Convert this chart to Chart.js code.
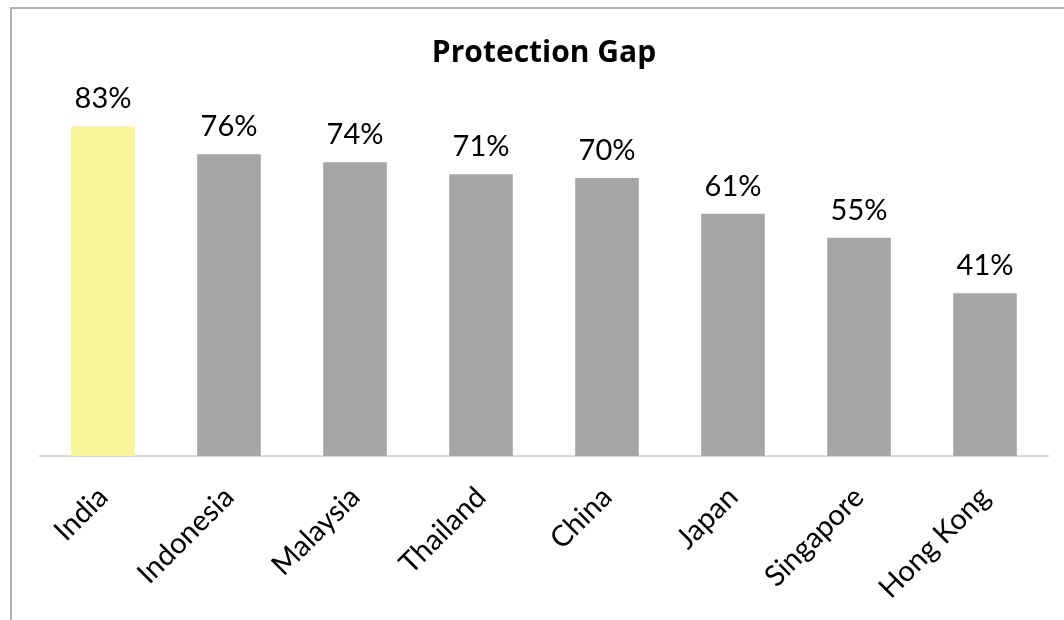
<!DOCTYPE html>
<html>
<head>
<meta charset="utf-8">
<script src="https://cdn.jsdelivr.net/npm/chart.js@4.4.0/dist/chart.umd.min.js"></script>
<style>
  html, body { margin: 0; padding: 0; background: #fff; overflow: hidden; }
  #wrap { position: relative; width: 1064px; height: 620px; }
  #frame { position: absolute; left: 10px; top: 7px; width: 1100px; height: 700px;
           border-top: 2px solid #b0b0b0; border-left: 2px solid #b0b0b0; }
  canvas { position: absolute; left: 0; top: 0; }
</style>
</head>
<body>
<div id="wrap">
  <div id="frame"></div>
  <canvas id="myChart" width="1064" height="620"></canvas>
</div>
<script>
const countries = ['India', 'Indonesia', 'Malaysia', 'Thailand', 'China', 'Japan', 'Singapore', 'Hong Kong'];
const gapValues = [83, 76, 74, 71, 70, 61, 55, 41];
const barColors = ['#f8f49a', '#a6a6a6', '#a6a6a6', '#a6a6a6', '#a6a6a6', '#a6a6a6', '#a6a6a6', '#a6a6a6'];

const fontName = 'Lato, "Open Sans", sans-serif';

// labels above each bar
const valueLabels = {
  id: 'valueLabels',
  afterDatasetsDraw(chart) {
    const ctx = chart.ctx;
    const meta = chart.getDatasetMeta(0);
    ctx.save();
    ctx.font = '29px ' + fontName;
    ctx.fillStyle = '#000';
    ctx.textAlign = 'center';
    ctx.textBaseline = 'alphabetic';
    meta.data.forEach(function(bar, i){
      ctx.fillText(gapValues[i] + '%', bar.x, bar.y - 18);
    });
    ctx.restore();
  }
};

const ctx = document.getElementById('myChart').getContext('2d');
const gapChart = new Chart(ctx, {
  type: 'bar',
  data: {
    labels: countries,
    datasets: [{
      data: gapValues,
      backgroundColor: barColors,
      borderWidth: 0,
      categoryPercentage: 1,
      barPercentage: 0.505
    }]
  },
  options: {
    responsive: false,
    animation: false,
    layout: { padding: { left: 40, right: 16, top: 0, bottom: 0 } },
    plugins: {
      legend: { display: false },
      tooltip: { enabled: false },
      title: {
        display: true,
        text: 'Protection Gap',
        color: '#000',
        font: { family: '"Open Sans", Lato, sans-serif', size: 30, weight: 'bold', lineHeight: 1.2 },
        padding: { top: 35, bottom: -12 }
      }
    },
    scales: {
      x: {
        grid: { display: false, drawTicks: false },
        border: { color: '#d9d9d9', width: 2 },
        ticks: {
          color: '#000',
          font: { family: fontName, size: 29 },
          minRotation: 45,
          maxRotation: 45,
          padding: 24
        },
        afterFit(scale) { scale.height = 164; scale.paddingLeft = 0; scale.paddingRight = 0; }
      },
      y: {
        display: false,
        min: 0,
        max: 100
      }
    }
  },
  plugins: [valueLabels]
});
</script>
</body>
</html>
